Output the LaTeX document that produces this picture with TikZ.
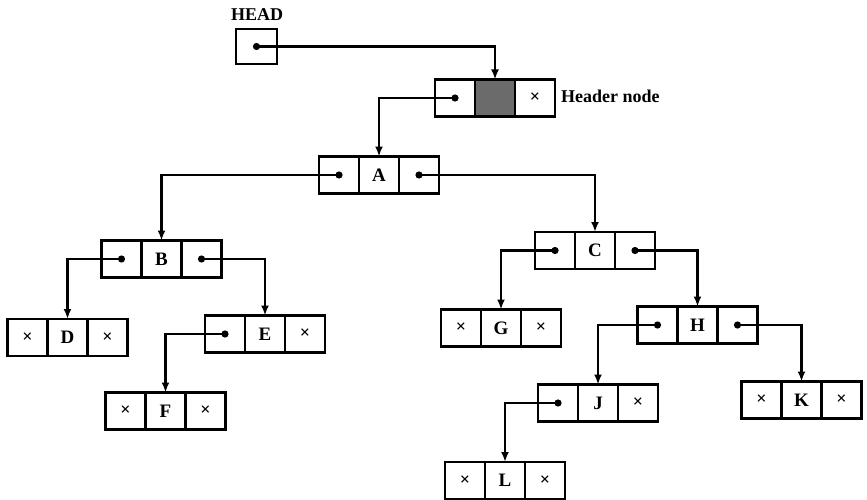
\documentclass[tikz,border=0pt]{standalone}
\usepackage{fontspec}
\setmainfont{Liberation Serif}
\usetikzlibrary{arrows.meta}
\tikzset{
  cell/.style={draw, line width=2.2pt, minimum width=40pt, minimum height=37pt,
    inner sep=0pt, outer sep=0pt, font=\bfseries\fontsize{19}{19}\selectfont},
  ptr/.style={-{Latex[length=10pt,width=8pt]}, line width=2.2pt},
  lbl/.style={font=\bfseries\fontsize{18}{18}\selectfont, inner sep=0pt},
}
\newcommand{\nilx}{{\bfseries\fontsize{18}{18}\selectfont ×}}
% \rec{name}{cx}{cy}{left}{centre}{right}
\newcommand{\rec}[6]{%
  \node[cell] (#1) at (#2,#3) {#5};
  \node[cell, anchor=east] (#1l) at (#1.west) {#4};
  \node[cell, anchor=west] (#1r) at (#1.east) {#6};
}
\newcommand{\ptrdot}[1]{\fill (#1.center) circle (3.6pt);}
\begin{document}
\begin{tikzpicture}[x=1pt,y=-1pt]
\useasboundingbox (0,0) rectangle (867,500);
% HEAD
\node[lbl] (headlbl) at (257,15) {HEAD};
\node[cell, minimum width=41pt, minimum height=35pt] (headbox) at (256.5,46.5) {};
% header node
\node[cell, fill=black!58] (hdr) at (495,98) {};
\node[cell, anchor=east] (hdrl) at (hdr.west) {};
\node[cell, anchor=west] (hdrr) at (hdr.east) {\nilx};
\node[lbl, anchor=west] (hdrlbl) at (561,96) {Header node};
% records
\rec{A}{379}{175}{}{A}{}
\rec{B}{161.5}{259}{}{B}{}
\rec{C}{595}{250.5}{}{C}{}
\rec{D}{67.5}{337.5}{\nilx}{D}{\nilx}
\rec{E}{265}{334}{}{E}{\nilx}
\rec{F}{165.5}{411}{\nilx}{F}{\nilx}
\rec{G}{501}{328}{\nilx}{G}{\nilx}
\rec{H}{697.5}{325}{}{H}{}
\rec{J}{598}{403}{}{J}{\nilx}
\rec{K}{801.5}{400}{\nilx}{K}{\nilx}
\rec{L}{505}{480.5}{\nilx}{L}{\nilx}
% pointers
\ptrdot{headbox}\draw[ptr] (headbox.center) -| (hdr.north);
\ptrdot{hdrl}\draw[ptr] (hdrl.center) -| (A.north);
\ptrdot{Al}\draw[ptr] (Al.center) -| (B.north);
\ptrdot{Ar}\draw[ptr] (Ar.center) -| (C.north);
\ptrdot{Bl}\draw[ptr] (Bl.center) -| (D.north);
\ptrdot{Br}\draw[ptr] (Br.center) -| (E.north);
\ptrdot{El}\draw[ptr] (El.center) -| (F.north);
\ptrdot{Cl}\draw[ptr] (Cl.center) -| (G.north);
\ptrdot{Cr}\draw[ptr] (Cr.center) -| (H.north);
\ptrdot{Hl}\draw[ptr] (Hl.center) -| (J.north);
\ptrdot{Hr}\draw[ptr] (Hr.center) -| (K.north);
\ptrdot{Jl}\draw[ptr] (Jl.center) -| (L.north);
\end{tikzpicture}
\end{document}
